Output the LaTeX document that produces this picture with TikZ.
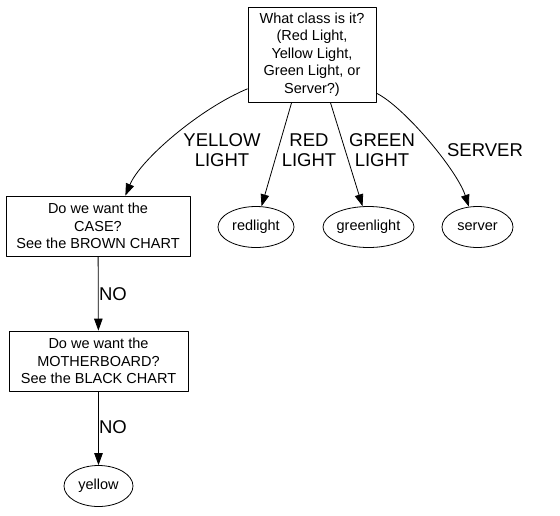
\documentclass[tikz,border=0pt]{standalone}
\usepackage{fontspec}
\setmainfont{Liberation Sans}
\usetikzlibrary{arrows.meta,shapes.geometric}
\begin{document}
\begin{tikzpicture}[x=1pt,y=-1pt,line width=0.8pt,line join=round,>={Triangle[length=12pt,width=8.5pt]},
		box/.style={draw,rectangle,inner sep=0pt,align=center,font=\fontsize{14.5}{17.5}\selectfont},
		leaf/.style={draw,ellipse,inner sep=0pt,minimum height=41pt,font=\fontsize{14.5}{17.5}\selectfont},
		lbl/.style={align=center,font=\fontsize{18.5}{20}\selectfont}]
		\useasboundingbox (0,0) rectangle (560,515);
		% questions
		\node[box,minimum width=128pt,minimum height=95pt] (q) at (312,54.5) {What class is it?\\(Red Light,\\Yellow Light,\\Green Light, or\\Server?)};
		\node[box,minimum width=184pt,minimum height=60pt] (case) at (98,226) {Do we want the\\CASE?\\See the BROWN CHART};
		\node[box,minimum width=179pt,minimum height=60pt] (mb) at (98.5,361) {Do we want the\\MOTHERBOARD?\\See the BLACK CHART};
		% answers
		\node[leaf,minimum width=76pt] (red) at (256,227) {redlight};
		\node[leaf,minimum width=91pt] (green) at (368.5,227) {greenlight};
		\node[leaf,minimum width=71pt] (server) at (477.5,227) {server};
		\node[leaf,minimum width=69pt] (yellow) at (98.5,486) {yellow};
		% edges
		\draw[->] (q.208) .. controls +(-48,20) and +(15,-36) .. (case.48);
		\draw[->] (q.247) -- (red.75);
		\draw[->] (q.291) -- (green.106);
		\draw[->] (q.329) .. controls +(27,13) and +(-12,-37) .. (server.113);
		\draw[->] (case) -- (mb);
		\draw[->] (mb) -- (yellow);
		\node[lbl] (lyellow) at (222,150) {YELLOW\\LIGHT};
		\node[lbl] (lred) at (309,150) {RED\\LIGHT};
		\node[lbl] (lgreen) at (382,150) {GREEN\\LIGHT};
		\node[lbl] (lserver) at (485,150) {SERVER};
		\node[lbl] (lno1) at (113,294) {NO};
		\node[lbl] (lno2) at (113,427) {NO};
\end{tikzpicture}
\end{document}
